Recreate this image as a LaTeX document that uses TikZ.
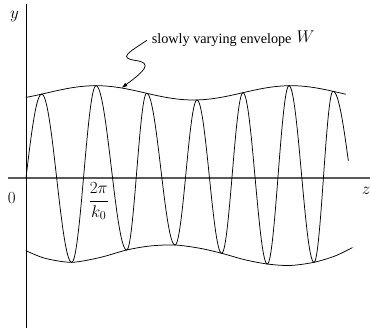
\RequirePackage{fix-cm}
\documentclass[tikz,border=0pt]{standalone}
\usepackage{fontspec}
\setmainfont{Liberation Serif}
\usetikzlibrary{arrows.meta}
\begin{document}
\begin{tikzpicture}[x=1pt,y=-1pt,
  curve/.style={line width=0.75pt, line cap=round, line join=round},
  yaxis/.style={line width=0.7pt},
  zaxis/.style={line width=1.1pt, black!65},
  mathlbl/.style={inner sep=0pt, font=\fontsize{17}{20}\selectfont},
  txt/.style={inner sep=0pt, font=\fontsize{14.2}{17}\selectfont}]
\useasboundingbox (0,0) rectangle (370,328);
% axes
\coordinate (ytop) at (26,4);
\coordinate (ybot) at (26,328);
\coordinate (zl) at (8,178);
\coordinate (zr) at (370,178);
\draw[zaxis] (zl) -- (zr);
\draw[yaxis] (ybot) -- (ytop);
% labels
\node[mathlbl, anchor=base] (ylab) at (14.5,18.5) {$y$};
\node[mathlbl, anchor=base] (zlab) at (366,195) {$z$};
\node[mathlbl, anchor=base] (olab) at (11.7,203.3) {$0$};
\node[mathlbl, anchor=base] (frac) at (98.8,205.5) {$\displaystyle\frac{2\pi}{k_0}$};
% upper envelope
\draw[curve] plot[domain=26:345.7,samples=140] (\x,{92.85-7.15*cos(1.84615*(\x-96))});
% lower envelope
\draw[curve] plot[smooth] coordinates {(26,250.7) (45,258.3) (71.7,262.3) (100,257.5) (126.7,250) (150,246) (175,245) (200,248.3) (221.7,253.3) (245,259.8) (267.3,264) (290,265.5) (314,262.3) (335,256) (352.3,247.7)};
% carrier
\draw[curve] plot[domain=0:1,samples=20,variable=\t] ({26+15.7*\t},{178-83.9*sin(90*\t)});
\foreach \xa/\ya/\xb/\yb in {41.7/94.1/71.7/262.3, 71.7/262.3/96/85.7, 96/85.7/126.7/250,
  126.7/250/146.7/93.3, 146.7/93.3/175/245, 175/245/197/99.95, 197/99.95/221.7/253.3,
  221.7/253.3/243/92.7, 243/92.7/267.3/264, 267.3/264/289/85.7, 289/85.7/314/262.3,
  314/262.3/333/91.3}{
  \draw[curve] plot[domain=0:1,samples=30,variable=\t] ({\xa+(\xb-\xa)*\t},{(\ya+\yb)/2+(\ya-\yb)/2*cos(180*\t)});
}
\draw[curve] plot[domain=0:0.46,samples=20,variable=\t] ({333+33.3*\t},{(91.3+250)/2+(91.3-250)/2*cos(180*\t)});
% annotation
\node[txt, anchor=base west] (lab) at (151.7,44) {slowly varying envelope\hspace{5pt}\raisebox{1.5pt}{\fontsize{17}{20}\selectfont$W$}};
\coordinate (tip) at (121.5,88);
\draw[curve, -{Latex[length=6pt,width=4pt]}] ([xshift=-5pt,yshift=-1.5pt]lab.west)
  .. controls (128,53) and (118,58) .. (136,60.5)
  .. controls (152,63) and (146,70) .. (tip);
\end{tikzpicture}
\end{document}
